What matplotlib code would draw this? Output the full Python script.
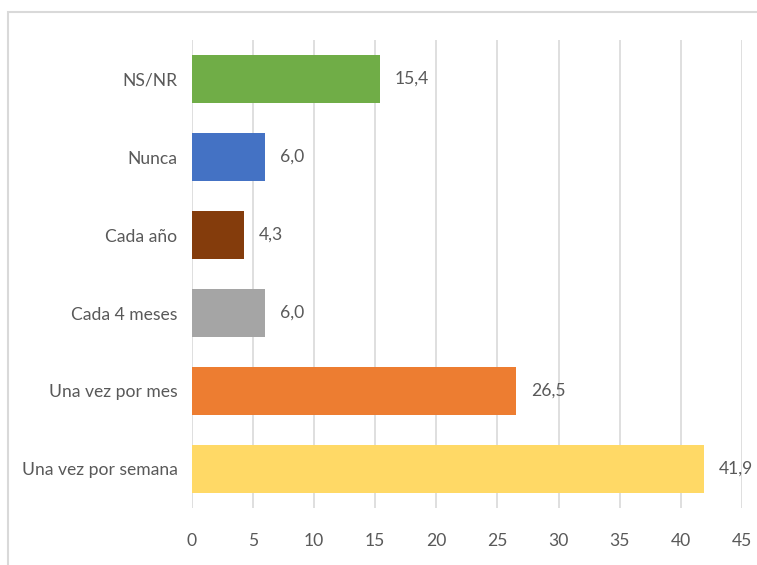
import matplotlib.pyplot as plt
from matplotlib.patches import Rectangle

categories = ["Una vez por semana", "Una vez por mes", "Cada 4 meses", "Cada año", "Nunca", "NS/NR"]
values = [41.9, 26.5, 6.0, 4.3, 6.0, 15.4]
colors = ["#FFD966", "#ED7D31", "#A5A5A5", "#843C0C", "#4472C4", "#70AD47"]
xticks = [0, 5, 10, 15, 20, 25, 30, 35, 40, 45]

plt.rcParams['font.family'] = ['Lato', 'DejaVu Sans']
text_color = "#595959"

fig = plt.figure(figsize=(7.57, 5.65), dpi=100)
ax = fig.add_axes([191.5 / 757, 1 - 508 / 565, (742 - 191.5) / 757, 468 / 565])

pos = range(len(categories))
ax.barh(pos, values, height=0.61, color=colors, zorder=3)

for y, v in zip(pos, values):
    ax.annotate(f"{v:.1f}".replace(".", ","), (v, y), xytext=(15, 0), textcoords="offset pixels",
                va="center", ha="left", fontsize=12.6, color=text_color)

ax.set_xlim(0, 45)
ax.set_ylim(-0.5, len(categories) - 0.5)
ax.set_xticks(xticks)
ax.set_yticks(list(pos))
ax.set_yticklabels(categories)
ax.tick_params(axis="both", length=0, labelsize=12.6, labelcolor=text_color)
ax.tick_params(axis="x", pad=18)
ax.tick_params(axis="y", pad=10)
ax.grid(axis="x", color="#D9D9D9", linewidth=1.2, zorder=0)
for s in ax.spines.values():
    s.set_visible(False)

# chart border, cut off at right and bottom like the source
fig.patches.append(Rectangle((7.5 / 757, -0.1), 1.1, 1.1 - 12 / 565, transform=fig.transFigure,
                             fill=False, edgecolor="#D9D9D9", linewidth=1.5))

fig.savefig("out.png", dpi=100)
